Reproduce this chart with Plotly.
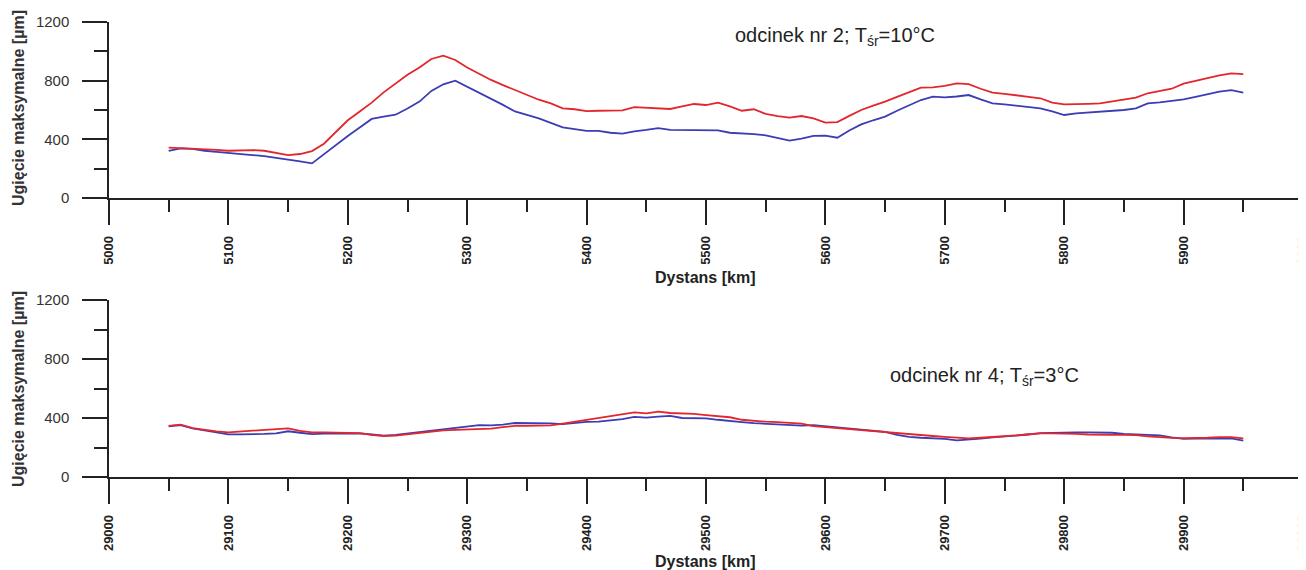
import plotly.graph_objects as go
from plotly.subplots import make_subplots

# Section 2 (top): distance [km]
dist_top = list(range(5050, 5951, 10))
red_top = [343, 340, 338, 333, 328, 322, 325, 327, 322, 310,
           293, 300, 320, 370, 450, 530, 590, 650, 720, 780,
           840, 890, 948, 970, 941, 890, 845, 805, 770, 736,
           700, 670, 645, 611, 605, 593, 595, 596, 598, 620,
           615, 612, 607, 625, 641, 634, 650, 625, 595, 605,
           573, 558, 548, 559, 543, 514, 518, 560, 600, 630,
           657, 690, 720, 752, 754, 764, 782, 777, 745, 718,
           710, 702, 690, 680, 650, 639, 638, 642, 645, 657,
           672, 684, 714, 730, 745, 780, 800, 820, 836, 850,
           845]
blue_top = [322, 338, 335, 322, 315, 309, 300, 293, 285, 275,
            264, 250, 236, 300, 365, 423, 480, 539, 555, 568,
            610, 657, 730, 775, 800, 760, 720, 680, 635, 590,
            565, 543, 512, 482, 470, 457, 457, 445, 439, 455,
            465, 477, 464, 462, 461, 461, 461, 445, 442, 436,
            427, 410, 391, 405, 423, 425, 411, 460, 502, 530,
            555, 595, 630, 668, 691, 686, 692, 702, 672, 645,
            638, 630, 620, 611, 590, 566, 577, 582, 586, 593,
            600, 611, 645, 652, 662, 673, 690, 707, 725, 736,
            718]

# Section 4 (bottom)
dist_bot = list(range(29050, 29951, 10))
red_bot = [346, 355, 332, 320, 310, 303, 308, 313, 322, 327,
           330, 312, 303, 303, 303, 303, 298, 285, 278, 280,
           290, 298, 310, 316, 320, 323, 325, 328, 338, 346,
           346, 346, 350, 362, 375, 386, 398, 412, 428, 438,
           432, 443, 434, 432, 428, 420, 412, 405, 388, 380,
           375, 372, 368, 362, 345, 338, 333, 327, 320, 312,
           303, 296, 288, 282, 278, 272, 265, 262, 266, 270,
           275, 282, 290, 296, 296, 296, 292, 288, 285, 285,
           285, 284, 276, 268, 265, 263, 262, 266, 271, 270,
           262]
blue_bot = [344, 352, 330, 316, 302, 289, 289, 289, 292, 296,
            310, 300, 291, 294, 296, 299, 296, 288, 281, 286,
            296, 305, 313, 325, 335, 342, 352, 350, 355, 366,
            366, 365, 364, 358, 368, 374, 376, 385, 393, 408,
            402, 410, 415, 400, 398, 398, 388, 378, 372, 365,
            360, 355, 350, 348, 352, 345, 337, 330, 320, 312,
            306, 285, 272, 266, 262, 258, 248, 252, 260, 268,
            273, 278, 288, 297, 300, 302, 302, 303, 303, 300,
            292, 289, 286, 282, 268, 258, 260, 262, 262, 262,
            246]

x_ranges = [[5000, 6000], [29000, 30000]]
y_range = [0, 1200]
labels = ["odcinek nr 2; T<sub>śr</sub>=10°C", "odcinek nr 4; T<sub>śr</sub>=3°C"]
x_title = "Dystans [km]"
y_title = "Ugięcie maksymalne [µm]"

RED = "#e3262c"
BLUE = "#3c3cb4"
AX = "#222222"
FONT = "Liberation Sans, Arial, sans-serif"

fig = make_subplots(rows=2, cols=1, vertical_spacing=0.0)

fig.add_trace(go.Scatter(x=dist_top, y=blue_top, mode="lines",
                         line=dict(color=BLUE, width=1.8), showlegend=False), row=1, col=1)
fig.add_trace(go.Scatter(x=dist_top, y=red_top, mode="lines",
                         line=dict(color=RED, width=1.8), showlegend=False), row=1, col=1)
fig.add_trace(go.Scatter(x=dist_bot, y=blue_bot, mode="lines",
                         line=dict(color=BLUE, width=1.8), showlegend=False), row=2, col=1)
fig.add_trace(go.Scatter(x=dist_bot, y=red_bot, mode="lines",
                         line=dict(color=RED, width=1.8), showlegend=False), row=2, col=1)

# the page body has an 8 px margin, so the figure is laid out 8 px smaller
OFF = 8
W, H = 1306 - OFF, 570 - OFF
ML, MR, MT, MB = 109 - OFF, 3, 22 - OFF, 93
PH = H - MT - MB
PW = W - ML - MR

def py(ypx):
    # ypx: vertical pixel position in the 1306x570 window
    return (H - MB - (ypx - OFF)) / PH

def px(xpx):
    return (xpx - OFF - ML) / PW

top_dom = [py(198), 1.0]
bot_dom = [0.0, py(300)]

for i, (r, dom) in enumerate([(1, top_dom), (2, bot_dom)]):
    fig.update_xaxes(range=x_ranges[i], dtick=100, tick0=x_ranges[i][0], tickformat="d",
                     ticks="outside", ticklen=25, tickwidth=1.5, tickcolor=AX,
                     minor=dict(dtick=50, ticks="outside", ticklen=12, tickwidth=1.5, tickcolor=AX),
                     showline=True, linecolor=AX, linewidth=1.5, automargin=False,
                     showgrid=False, zeroline=False, tickangle=-90, ticklabelstandoff=6,
                     ticklabeloverflow="allow",
                     tickfont=dict(family=FONT, size=13, color="#222222", weight="bold"),
                     row=r, col=1)
    fig.update_yaxes(range=y_range, dtick=400, tick0=0, domain=dom,
                     ticks="outside", ticklen=25, tickwidth=1.5, tickcolor=AX,
                     minor=dict(dtick=200, ticks="outside", ticklen=13, tickwidth=1.5, tickcolor=AX),
                     showline=True, linecolor=AX, linewidth=1.5, automargin=False,
                     showgrid=False, zeroline=False, ticklabelstandoff=10,
                     tickfont=dict(family=FONT, size=15, color="#333333"),
                     row=r, col=1)

anns = []
anns.append(dict(text=labels[0], x=px(835), y=py(36), xref="paper", yref="paper",
                 xanchor="center", yanchor="middle",
                 showarrow=False, font=dict(family=FONT, size=20, color="#222222")))
anns.append(dict(text=labels[1], x=px(984), y=py(376), xref="paper", yref="paper",
                 xanchor="center", yanchor="middle",
                 showarrow=False, font=dict(family=FONT, size=20, color="#222222")))
for ypx in (277, 561):
    anns.append(dict(text=x_title, x=px(705), y=py(ypx), xref="paper", yref="paper",
                     xanchor="center", yanchor="middle",
                     showarrow=False, font=dict(family=FONT, size=16, color="#222222", weight="bold")))
for ypx in (108, 389):
    anns.append(dict(text=y_title, x=px(18), y=py(ypx), xref="paper", yref="paper",
                     xanchor="center", yanchor="middle",
                     showarrow=False, textangle=-90,
                     font=dict(family=FONT, size=16, color="#333333", weight="bold")))

fig.update_layout(width=W, height=H, margin=dict(l=ML, r=MR, t=MT, b=MB, autoexpand=False),
                  paper_bgcolor="white", plot_bgcolor="white",
                  annotations=anns, showlegend=False)

fig.write_html("out.html")
